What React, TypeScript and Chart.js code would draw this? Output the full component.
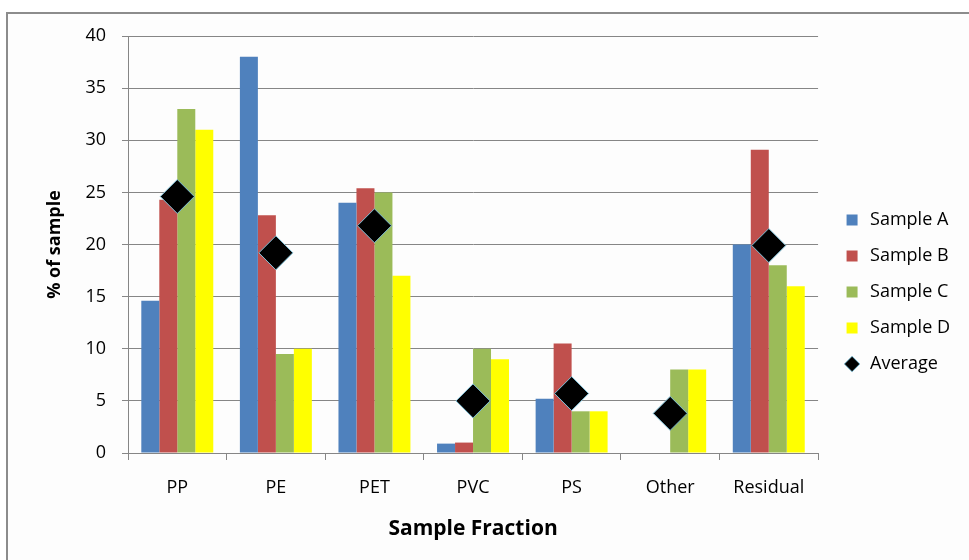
import React, { useEffect, useRef } from 'react';
import { Chart, registerables } from 'chart.js';

Chart.register(...registerables);

const categories = ['PP', 'PE', 'PET', 'PVC', 'PS', 'Other', 'Residual'];
const sampleA = [14.6, 38, 24, 0.9, 5.2, 0, 20];
const sampleB = [24.3, 22.8, 25.4, 1.0, 10.5, 0, 29.1];
const sampleC = [33, 9.5, 25, 10, 4, 8, 18];
const sampleD = [31, 10, 17, 9, 4, 8, 16];
const average = [24.6, 19.2, 21.8, 5, 5.7, 3.8, 19.9];
const seriesNames = ['Sample A', 'Sample B', 'Sample C', 'Sample D', 'Average'];
const yMin = 0;
const yMax = 40;
const yStep = 5;

const FONT = "'Open Sans', sans-serif";
const GRID = '#868686';
const LEGEND_DX = 7;
const LEGEND_DY = -6;

export default function App() {
  const ref = useRef<HTMLCanvasElement>(null);

  useEffect(() => {
    if (!ref.current) return;
    const legendNudge = {
      id: 'legendNudge',
      afterLayout(chart: any) {
        const l = chart.legend;
        if (l) {
          l.left += LEGEND_DX;
          l.right += LEGEND_DX;
          l.top += LEGEND_DY;
          l.bottom += LEGEND_DY;
        }
      },
    };
    const barCommon = {
      borderWidth: 0,
      pointStyle: 'rect',
      categoryPercentage: 0.73,
      barPercentage: 1.0,
      order: 1,
    };
    const chart = new Chart(ref.current, {
      type: 'bar',
      data: {
        labels: categories,
        datasets: [
          { ...barCommon, label: seriesNames[0], data: sampleA, backgroundColor: '#4F81BD' } as any,
          { ...barCommon, label: seriesNames[1], data: sampleB, backgroundColor: '#C0504D' } as any,
          { ...barCommon, label: seriesNames[2], data: sampleC, backgroundColor: '#9BBB59' } as any,
          { ...barCommon, label: seriesNames[3], data: sampleD, backgroundColor: '#FFFF00' } as any,
          {
            type: 'line',
            label: seriesNames[4],
            data: average,
            showLine: false,
            pointStyle: 'rectRot',
            pointRadius: 17,
            pointHoverRadius: 17,
            backgroundColor: '#000000',
            borderColor: '#7fbfd6',
            pointBackgroundColor: '#000000',
            pointBorderColor: '#7fbfd6',
            pointBorderWidth: 1,
            borderWidth: 1,
            order: 0,
          } as any,
        ],
      },
      options: {
        responsive: false,
        animation: false,
        devicePixelRatio: 1,
        layout: { padding: { top: 36, right: 16, bottom: 0, left: 0 } },
        plugins: {
          tooltip: { enabled: false },
          legend: {
            position: 'right',
            labels: {
              usePointStyle: true,
              boxHeight: 11,
              padding: 18,
              color: '#000000',
              font: { family: FONT, size: 18 },
              sort: (a: any, b: any) => a.datasetIndex - b.datasetIndex,
            },
          },
        },
        scales: {
          x: {
            grid: {
              drawOnChartArea: false,
              drawTicks: true,
              tickLength: 7,
              color: GRID,
              offset: true,
            },
            border: { color: GRID },
            ticks: { color: '#000000', font: { family: FONT, size: 18 }, padding: 17 },
            title: {
              display: true,
              text: 'Sample Fraction',
              color: '#000000',
              font: { family: FONT, size: 21, weight: 'bold' },
              padding: { top: 0, bottom: 18 },
            },
            afterFit: (s: any) => {
              s.height = 107;
            },
          },
          y: {
            min: yMin,
            max: yMax,
            grid: { color: GRID, tickLength: 6 },
            border: { color: GRID },
            ticks: {
              stepSize: yStep,
              color: '#000000',
              font: { family: FONT, size: 18 },
              padding: 16,
            },
            title: {
              display: true,
              text: '% of sample',
              color: '#000000',
              font: { family: FONT, size: 18, weight: 'bold' },
              padding: { top: 44, bottom: 0 },
            },
            afterFit: (s: any) => {
              s.width = 128;
            },
          },
        },
      } as any,
      plugins: [legendNudge],
    });
    return () => chart.destroy();
  }, []);

  return (
    <div
      style={{
        position: 'fixed',
        left: 0,
        top: 0,
        width: 969,
        height: 560,
        overflow: 'hidden',
        background: '#ffffff',
      }}
    >
      <div
        style={{
          position: 'absolute',
          left: 6,
          top: 12,
          width: 1000,
          height: 600,
          border: '2px solid #8c8c8c',
          background: '#fdfdfd',
        }}
      />
      <canvas
        ref={ref}
        width={969}
        height={560}
        style={{ position: 'absolute', left: 0, top: 0, width: 969, height: 560 }}
      />
    </div>
  );
}
